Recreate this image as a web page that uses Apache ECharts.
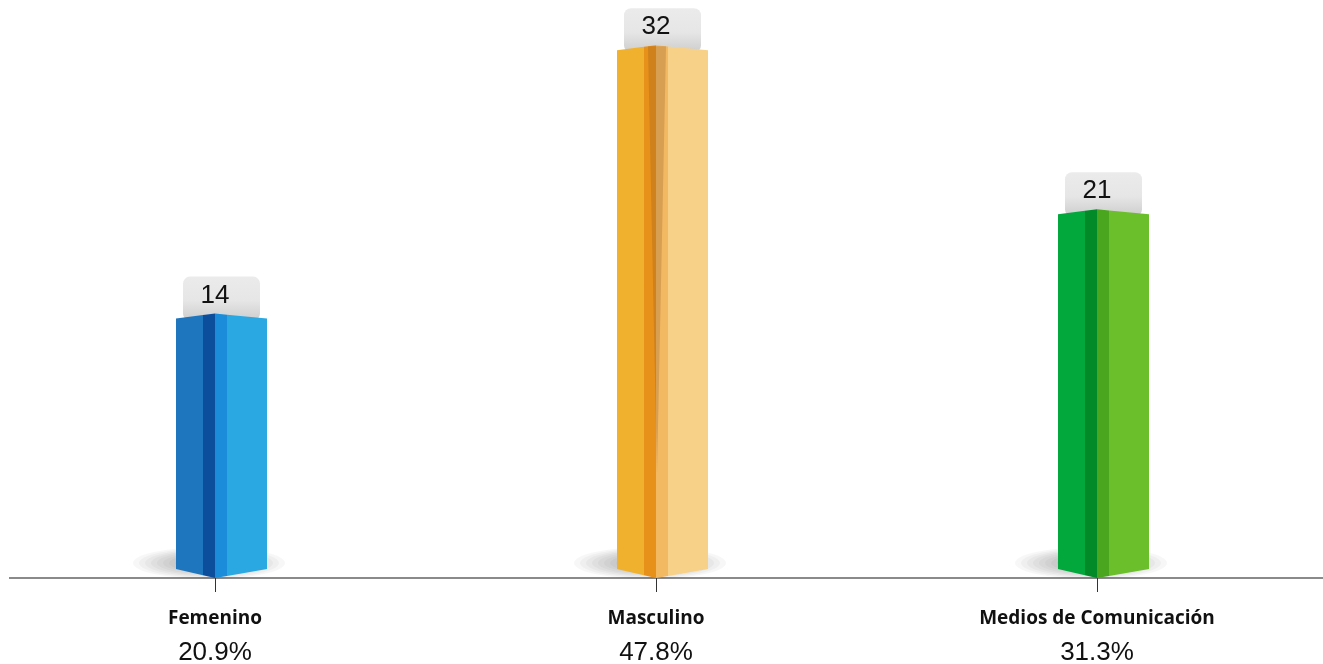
<!DOCTYPE html>
<html>
<head>
<meta charset="utf-8">
<script src="https://cdn.jsdelivr.net/npm/echarts@6/dist/echarts.min.js"></script>
<style>
html,body{margin:0;padding:0;background:#fff;}
#chart{width:1323px;height:664px;}
</style>
</head>
<body>
<div id="chart"></div>
<script>
const categories = ['Femenino', 'Masculino', 'Medios de Comunicación'];
const values = [14, 32, 21];
const percentLabels = ['20.9%', '47.8%', '31.3%'];

const palette = [
  { left: '#1E76BE', leftDark: '#0D4E9C', rightLight: '#1A8CDA', right: '#29A8E2' },
  { left: '#F0B12E', leftDark: '#E8911A', rightLight: '#F3B862', right: '#F8D189' },
  { left: '#02A83B', leftDark: '#018A27', rightLight: '#49A61E', right: '#6BBF2A' }
];
const Y_MIN = -3.4;
const Y_MAX = 35;

const chart = echarts.init(document.getElementById('chart'));

function renderItem(params, api) {
  const i = api.value(0);
  const v = api.value(1);
  const top = api.coord([i, v]);
  const base = api.coord([i, Y_MIN]);
  const cx = top[0], yT = top[1], yB = base[1];
  const p = palette[i];
  const LW = 39, RW = 52, TOPD = 5, BOTD = 9;
  function tY(dx) { return dx <= 0 ? yT - TOPD * (dx + LW) / LW : yT - TOPD * (RW - dx) / RW; }
  function bY(dx) { return dx <= 0 ? yB - BOTD * (-dx) / LW : yB - BOTD * dx / RW; }
  function face(d1, d2, color) {
    return {
      type: 'polygon',
      shape: { points: [[cx + d1, tY(d1)], [cx + d2, tY(d2)], [cx + d2, bY(d2)], [cx + d1, bY(d1)]] },
      style: { fill: color }
    };
  }
  const children = [];
  // soft ground shadow
  for (let k = 0; k < 8; k++) {
    children.push({
      type: 'ellipse',
      shape: { cx: cx - 6, cy: yB - 15, rx: 76 - k * 6, ry: 16 - k * 1.2 },
      style: { fill: 'rgba(0,0,0,0.03)' }
    });
  }
  // axis tick under the bar
  children.push({
    type: 'line',
    shape: { x1: cx + 0.5, y1: yB, x2: cx + 0.5, y2: yB + 14 },
    style: { stroke: '#333', lineWidth: 1 }
  });
  // label box
  children.push({
    type: 'rect',
    shape: { x: cx - 32, y: yT - 42, width: 77, height: 44, r: 7 },
    style: {
      fill: new echarts.graphic.LinearGradient(0, 0, 0, 1, [
        { offset: 0, color: '#EBEBEB' },
        { offset: 0.55, color: '#E6E6E6' },
        { offset: 1, color: '#CDCDCD' }
      ])
    }
  });
  children.push({
    type: 'text',
    style: {
      text: String(values[i]), x: cx, y: yT - 23,
      align: 'center', verticalAlign: 'middle',
      fontSize: 26, fontFamily: 'Liberation Sans, Arial, sans-serif', fill: '#111'
    }
  });
  // faces
  children.push(face(-LW, -12, p.left));
  children.push(face(-12, 0, p.leftDark));
  children.push(face(0, 12, p.rightLight));
  children.push(face(12, RW, p.right));
  if (i === 1) {
    children.push({
      type: 'polygon',
      shape: { points: [[cx - 8, tY(-8)], [cx + 10, tY(10)], [cx + 1, yT + 0.8 * (yB - yT)]] },
      style: { fill: 'rgba(130,85,30,0.25)' }
    });
  }
  return { type: 'group', children: children };
}

const option = {
  backgroundColor: '#fff',
  animation: false,
  grid: { left: -5.5, right: 5.5, top: 5.5, bottom: 86, containLabel: false, outerBoundsMode: 'none' },
  xAxis: {
    type: 'category',
    data: categories,
    axisLine: { show: false },
    axisTick: { show: false },
    axisLabel: {
      margin: 26,
      interval: 0,
      formatter: function (val, idx) { return '{a|' + val + '}\n{b|' + percentLabels[idx] + '}'; },
      rich: {
        a: { fontFamily: 'Open Sans', fontWeight: 'bold', fontSize: 19, color: '#111', lineHeight: 30 },
        b: { fontFamily: 'Liberation Sans', fontSize: 26, color: '#111', lineHeight: 38 }
      }
    },
    splitLine: { show: false }
  },
  yAxis: { type: 'value', min: Y_MIN, max: Y_MAX, show: false, splitLine: { show: false } },
  graphic: [{
    type: 'line', z: 1,
    shape: { x1: 9, y1: 578, x2: 1323, y2: 578 },
    style: { stroke: '#8A8A8A', lineWidth: 2 }
  }],
  series: [{
    type: 'custom',
    renderItem: renderItem,
    data: values.map((v, i) => [i, v]),
    z: 3,
    clip: false
  }]
};
chart.setOption(option);
</script>
</body>
</html>
